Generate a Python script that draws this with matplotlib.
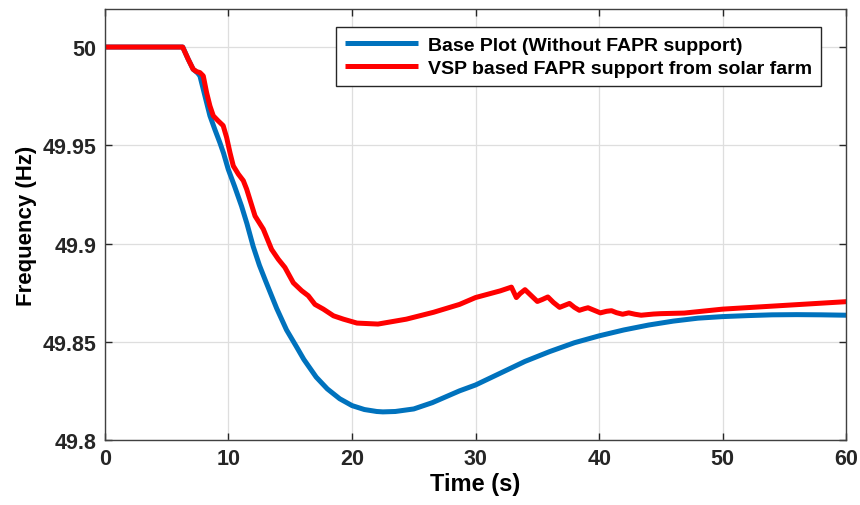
import matplotlib
matplotlib.use("Agg")
import matplotlib.pyplot as plt

# Base plot (without FAPR support)
t_base = [0, 6.3, 6.74, 7.14, 7.5, 7.69, 8.1, 8.5, 8.9, 9.3, 9.6, 9.98, 10.5, 11.06,
          11.5, 12.0, 12.5, 13.0, 13.9, 14.7, 15.5, 16.1, 17.1, 18.0, 19.0, 20.0,
          21.0, 22.0, 22.5, 23.5, 25.0, 26.5, 28.7, 30, 32, 34, 36, 38, 40, 42, 44,
          46, 48, 50, 52, 54, 56, 58, 60]
f_base = [50.0, 50.0, 49.9938, 49.9887, 49.9868, 49.9853, 49.975, 49.965, 49.958,
          49.9514, 49.946, 49.9378, 49.929, 49.919, 49.910, 49.8985, 49.889, 49.881,
          49.867, 49.856, 49.8475, 49.841, 49.832, 49.826, 49.821, 49.8175, 49.8155,
          49.8145, 49.8143, 49.8145, 49.8158, 49.819, 49.825, 49.828, 49.834, 49.840,
          49.845, 49.8495, 49.853, 49.856, 49.8585, 49.8605, 49.862, 49.8628, 49.8633,
          49.8637, 49.8638, 49.8637, 49.8635]

# VSP based FAPR support from solar farm
t_vsp = [0, 6.29, 6.74, 7.14, 7.42, 7.69, 7.96, 8.23, 8.5, 8.77, 9.17, 9.57, 9.85,
         10.12, 10.39, 10.8, 11.2, 11.47, 12.15, 12.82, 13.49, 14.03, 14.57, 15.25,
         15.92, 16.46, 17.0, 17.68, 18.5, 19.3, 20.4, 22.1, 24.4, 26.6, 28.7, 30.0,
         32.0, 32.9, 33.3, 33.6, 34.0, 34.5, 35.0, 35.4, 35.85, 36.3, 36.8, 37.2,
         37.6, 38.0, 38.4, 38.8, 39.1, 39.6, 40.1, 40.6, 41.0, 41.4, 41.9, 42.4, 42.9,
         43.4, 44.4, 45.0, 46.9, 50.0, 55.0, 60.0]
f_vsp = [50.0, 50.0, 49.9938, 49.9887, 49.9875, 49.987, 49.9853, 49.9768, 49.970,
         49.965, 49.9624, 49.960, 49.954, 49.9463, 49.9395, 49.9353, 49.932, 49.9277,
         49.914, 49.9073, 49.897, 49.892, 49.8878, 49.880, 49.876, 49.8734, 49.869,
         49.8666, 49.8632, 49.8615, 49.8595, 49.859, 49.8615, 49.865, 49.869, 49.8725,
         49.8759, 49.8778, 49.8725, 49.8745, 49.8765, 49.8735, 49.8705, 49.8715,
         49.8728, 49.8700, 49.8675, 49.8685, 49.8695, 49.8675, 49.8660, 49.8668,
         49.8673, 49.8660, 49.8647, 49.8655, 49.8658, 49.8648, 49.8640, 49.8647,
         49.8640, 49.8635, 49.8641, 49.8643, 49.8646, 49.8666, 49.8685, 49.8704]

labels = ['Base Plot (Without FAPR support)', 'VSP based FAPR support from solar farm']
xticks = [0, 10, 20, 30, 40, 50, 60]
yticks = [49.8, 49.85, 49.9, 49.95, 50]
ytick_labels = ['49.8', '49.85', '49.9', '49.95', '50']

plt.rcParams['font.family'] = ['Liberation Sans', 'DejaVu Sans']
plt.rcParams['font.weight'] = 'bold'

fig = plt.figure(figsize=(8.6, 5.06), dpi=100)
ax = fig.add_axes([0.122, 0.1285, 0.862, 0.8515])

ax.plot(t_base, f_base, color='#0072BD', lw=3.6, label=labels[0],
        solid_joinstyle='round', solid_capstyle='butt')
ax.plot(t_vsp, f_vsp, color='#FF0000', lw=3.6, label=labels[1],
        solid_joinstyle='round', solid_capstyle='butt')

ax.set_xlim(0, 60)
ax.set_ylim(49.8, 50.0193)
ax.set_xticks(xticks)
ax.set_yticks(yticks)
ax.set_yticklabels(ytick_labels)
ax.grid(True, color='#dedede', lw=0.9)
ax.set_axisbelow(True)
ax.tick_params(direction='in', length=5, width=1, top=True, right=True, colors='#262626',
               pad=6)
for lab in ax.get_yticklabels() + ax.get_xticklabels():
    lab.set_fontsize(15.5)
    lab.set_fontweight('bold')
for s in ax.spines.values():
    s.set_color('#404040')
    s.set_linewidth(1.0)

ax.set_xlabel('Time (s)', fontsize=17, fontweight='bold', labelpad=2)
ax.set_ylabel('Frequency (Hz)', fontsize=16, fontweight='bold', labelpad=4)

leg = ax.legend(loc='upper right', bbox_to_anchor=(0.966, 0.958), borderaxespad=0,
                prop={'weight': 'bold', 'size': 14}, handlelength=3.8, fancybox=False,
                framealpha=1, edgecolor='#262626', borderpad=0.45, labelspacing=0.3,
                handletextpad=0.5)
leg.get_frame().set_linewidth(1.0)

fig.savefig('out.png', dpi=100)
